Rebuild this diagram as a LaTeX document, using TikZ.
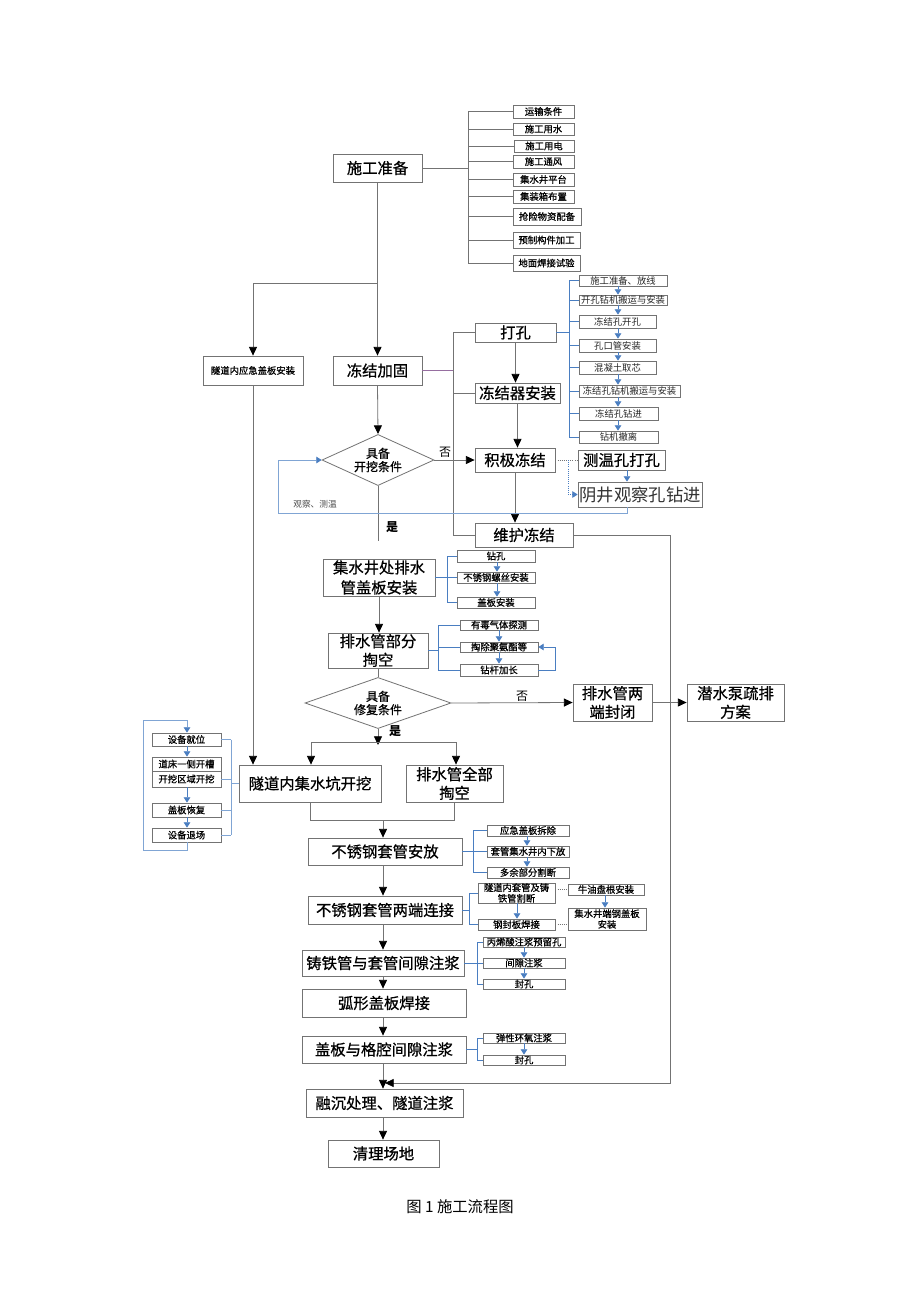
\documentclass[tikz,border=0pt]{standalone}
\usepackage{fontspec}
\setmainfont{Noto Sans CJK SC}
\newfontfamily\medcjk{Noto Sans CJK SC}[FakeBold=0.7]
\usetikzlibrary{arrows.meta,shapes.geometric}
\definecolor{lblue}{RGB}{74,126,193}
\definecolor{lpurp}{RGB}{150,110,160}
\newcommand\mybox[7][]{%
  \pgfmathsetmacro\bw{(#5-#3)*0.75}%
  \pgfmathsetmacro\bh{(#6-#4)*0.75}%
  \node[box,#1,minimum width=\bw pt,minimum height=\bh pt] (#2) at ({(#3+#5)/2},{(#4+#6)/2}) {#7};}
\begin{document}
\begin{tikzpicture}[x=0.75pt,y=-0.75pt,
 box/.style={draw=black!55,line width=0.6pt,inner sep=0pt,fill=white,align=center},
 mfont/.style={font=\medcjk\fontsize{11.5}{14}\selectfont},
 sfont/.style={font=\medcjk\fontsize{7}{8}\selectfont},
 tfont/.style={font=\fontsize{7}{8}\selectfont,text=black!85},
 gl/.style={draw=black!55,line width=0.6pt},
 bl/.style={draw=lblue,line width=0.6pt},
 arr/.style={gl,-{Triangle[length=6.5pt,width=6pt,color=black]}},
 barr/.style={bl,-{Triangle[length=4pt,width=5pt,color=lblue]}},
 dmd/.style={draw=black!55,line width=0.6pt,shape=diamond,inner sep=-4pt,align=center,font=\medcjk\fontsize{9}{10}\selectfont},
 lbl/.style={font=\fontsize{9}{10}\selectfont}
]
\fill[white] (0,0) rectangle (920,1302);
\useasboundingbox (0,0) rectangle (920,1302);

% ---------- 施工准备 ----------
\mybox[mfont]{prep}{333}{154}{422}{182}{施工准备}
\mybox[sfont]{a1}{513}{105}{574}{118}{运输条件}
\mybox[sfont]{a2}{513}{123}{574}{135}{施工用水}
\mybox[sfont]{a3}{514}{140}{574}{152}{施工用电}
\mybox[sfont]{a4}{513}{155}{574}{168}{施工通风}
\mybox[sfont]{a5}{513}{173}{574}{186}{集水井平台}
\mybox[sfont]{a6}{513}{190}{574}{203}{集装箱布置}
\mybox[sfont]{a7}{513}{208}{581}{225}{抢险物资配备}
\mybox[sfont]{a8}{513}{232}{580}{248}{预制构件加工}
\mybox[sfont]{a9}{513}{255}{580}{271}{地面焊接试验}
\coordinate (busA) at (468,0);
\foreach \n in {a1,a2,a3,a4,a5,a6,a7,a8,a9} \draw[gl] (\n.west) -- (\n.west -| busA);
\draw[gl] (a1.west -| busA) -- (a9.west -| busA);
\draw[gl] (prep.east) -- (prep.east -| busA);

% ---------- 冻结 ----------
\mybox[sfont]{emerg}{203}{356}{303}{385}{隧道内应急盖板安装}
\mybox[mfont]{freeze}{333}{356}{422}{385}{冻结加固}
\coordinate (j1) at (377.5,283);
\draw[arr] (prep.south) -- (freeze.north);
\draw[arr] (j1) -| (emerg.north);

\mybox[mfont]{drill}{475}{323}{556}{342}{打孔}
\mybox[mfont]{inst}{475}{383}{560}{403}{冻结器安装}
\mybox[mfont]{active}{475}{448}{555}{472}{积极冻结}
\mybox[mfont]{tempd}{578}{450}{665}{470}{测温孔打孔}
\mybox[font=\fontsize{13}{15}\selectfont,text=black!80]{obs}{578}{482}{702}{507}{阴井观察孔钻进}
\mybox[mfont]{maint}{475}{523}{573}{547}{维护冻结}

\coordinate (busF) at (453,0);
\draw[draw=lpurp,line width=0.6pt] (freeze.east) -- (freeze.east -| busF);
\draw[gl] (drill.west) -- (drill.west -| busF) -- (maint.west -| busF) -- (maint.west);
\draw[gl] (inst.west) -- (inst.west -| busF);

\mybox[tfont]{b1}{579}{275}{667}{286}{施工准备、放线}
\mybox[tfont]{b2}{579}{295}{667}{305}{开孔钻机搬运与安装}
\mybox[tfont]{b3}{579}{315}{656}{328}{冻结孔开孔}
\mybox[tfont]{b4}{579}{339}{656}{352}{孔口管安装}
\mybox[tfont]{b5}{579}{361}{656}{374}{混凝土取芯}
\mybox[tfont]{b6}{579}{385}{680}{397}{冻结孔钻机搬运与安装}
\mybox[tfont]{b7}{579}{407}{658}{420}{冻结孔钻进}
\mybox[tfont]{b8}{579}{431}{658}{443}{钻机撤离}
\coordinate (busB) at (569,0);
\coordinate (arB) at (618,0);
\draw[bl] (drill.east) -- (drill.east -| busB);
\foreach \n in {b1,b2,b3,b4,b5,b6,b7,b8} \draw[bl] (\n.west) -- (\n.west -| busB);
\draw[bl] (b1.west -| busB) -- (b8.west -| busB);
\foreach \p/\q in {b1/b2,b2/b3,b3/b4,b4/b5,b5/b6,b6/b7,b7/b8} \draw[barr] (\p.south -| arB) -- (\q.north -| arB);

\draw[arr] (drill.south) -- (drill.south |- inst.north);
\draw[arr] (inst.south) -- (inst.south |- active.north);
\draw[arr] (active.south) -- (active.south |- maint.north);

\draw[gl,densely dotted] (active.east) -- (tempd.west);
\coordinate (k1) at (568,460);
\draw[bl,densely dotted,-{Triangle[length=4pt,width=5pt,color=lblue]}] (k1) |- (obs.west);
\coordinate (cx) at (627,0);
\draw[barr] (tempd.south -| cx) -- (obs.north -| cx);

% diamond 1
\node[dmd,minimum width=84pt,minimum height=34.5pt] (d1) at (378,460) {具备\\开挖条件};
\draw[arr] (freeze.south) -- (d1.north);
\draw[arr] (d1.east) -- (active.west);
\node[lbl] (no1) at (445,452) {否};
\coordinate (e1) at (378,541);
\draw[gl] (d1.south) -- (e1);
\node[lbl,font=\fontsize{9}{10}\selectfont\bfseries] (yes1) at (392,527) {是};
\draw[draw=lblue!70,line width=0.6pt,-{Triangle[length=4pt,width=5pt,color=lblue]}] (obs.south -| cx) -- (627,513) -- (278,513) -- (278,460) -- (d1.west);
\node[font=\fontsize{6.5}{7}\selectfont,text=black!70] (lab1) at (315,504) {观察、测温};

\coordinate (r1) at (670,535);
\coordinate (r2) at (670,1083);
\coordinate (m6) at (385,1083);
\draw[gl,-{Triangle[length=6.5pt,width=6pt,color=black]}] (maint.east) -- (r1) -- (r2) -- (m6);

% ---------- 集水井处 ----------
\mybox[mfont,font=\medcjk\fontsize{11.5}{15}\selectfont]{w1}{323}{559}{435}{596}{集水井处排水\\管盖板安装}
\mybox[sfont]{c1}{457}{550}{535}{562}{钻孔}
\mybox[sfont]{c2}{457}{572}{535}{583}{不锈钢螺丝安装}
\mybox[sfont]{c3}{457}{597}{535}{608}{盖板安装}
\coordinate (busC) at (447,0);
\coordinate (arC) at (497,0);
\draw[bl] (w1.east) -- (w1.east -| busC);
\foreach \n in {c1,c2,c3} \draw[bl] (\n.west) -- (\n.west -| busC);
\draw[bl] (c1.west -| busC) -- (c3.west -| busC);
\draw[barr] (c1.south -| arC) -- (c2.north -| arC);
\draw[barr] (c2.south -| arC) -- (c3.north -| arC);

\mybox[mfont]{w2}{328}{633}{428}{668}{排水管部分\\掏空}
\draw[arr] (w1.south) -- (w1.south |- w2.north);
\mybox[sfont]{f1}{460}{620}{538}{630}{有毒气体探测}
\mybox[sfont]{f2}{460}{642}{538}{652}{掏除聚氨酯等}
\mybox[sfont]{f3}{460}{664}{538}{676}{钻杆加长}
\coordinate (busE) at (438,0);
\coordinate (arE) at (499,0);
\draw[bl] (w2.east) -- (w2.east -| busE);
\foreach \n in {f1,f2,f3} \draw[bl] (\n.west) -- (\n.west -| busE);
\draw[bl] (f1.west -| busE) -- (f3.west -| busE);
\draw[barr] (f1.south -| arE) -- (f2.north -| arE);
\draw[barr] (f2.south -| arE) -- (f3.north -| arE);
\draw[barr] (f3.east) -- (555,670) -- (555,647) -- (f2.east);

% diamond 2
\node[dmd,minimum width=109.5pt,minimum height=25.5pt] (d2) at (378,703) {具备\\修复条件};
\draw[gl] (w2.south) -- (d2.north);
\mybox[mfont]{dc}{573}{684}{652}{721}{排水管两\\端封闭}
\mybox[mfont]{pump}{687}{684}{784}{721}{潜水泵疏排\\方案}
\draw[arr] (d2.east) -- (dc.west);
\node[lbl] (no2) at (522,696) {否};
\draw[arr] (dc.east) -- (pump.west);
\coordinate (j2) at (378,745);
\draw[arr] (d2.south) -- (j2);
\node[lbl,font=\fontsize{9}{10}\selectfont\bfseries] (yes2) at (395,731) {是};

\mybox[mfont]{tp}{239}{765}{381}{802}{隧道内集水坑开挖}
\mybox[mfont]{ae}{406}{765}{503}{802}{排水管全部\\掏空}
\coordinate (hl) at (311,742);
\coordinate (hr) at (456,742);
\draw[gl] (hl) -- (hr);
\draw[arr] (hl) -- (hl |- tp.north);
\draw[arr] (hr) -- (hr |- ae.north);
\draw[arr] (emerg.south) -- (emerg.south |- tp.north);

% left group
\mybox[sfont]{g1}{152}{733}{221}{746}{设备就位}
\mybox[sfont]{g2}{152}{757}{221}{771}{道床一侧开槽}
\mybox[sfont]{g3}{152}{771}{221}{787}{开挖区域开挖}
\mybox[sfont]{g4}{152}{803}{221}{817}{盖板恢复}
\mybox[sfont]{g5}{152}{828}{221}{842}{设备退场}
\coordinate (gx) at (187,0);
\coordinate (busG) at (231,0);
\draw[barr] (g1.south -| gx) -- (g2.north -| gx);
\draw[barr] (g3.south -| gx) -- (g4.north -| gx);
\draw[barr] (g4.south -| gx) -- (g5.north -| gx);
\draw[draw=lblue!70,line width=0.6pt,-{Triangle[length=4pt,width=5pt,color=lblue]}] (g5.south -| gx) -- (187,850) -- (143,850) -- (143,720) -- (187,720) -- (g1.north -| gx);
\foreach \n in {g1,g3,g4,g5} \draw[draw=lblue!70,line width=0.6pt] (\n.east) -- (\n.east -| busG);
\draw[draw=lblue!70,line width=0.6pt] (g1.east -| busG) -- (g5.east -| busG);
\draw[draw=lblue!70,line width=0.6pt] (tp.west -| busG) -- (tp.west);

% ---------- 不锈钢套管 ----------
\mybox[mfont]{s1}{308}{838}{462}{865}{不锈钢套管安放}
\coordinate (mj) at (383,820);
\draw[gl] (tp.south) |- (mj);
\draw[gl] (ae.south) |- (mj);
\draw[arr] (mj) -- (mj |- s1.north);
\mybox[sfont]{h1}{487}{825}{569}{836}{应急盖板拆除}
\mybox[sfont]{h2}{487}{846}{569}{857}{套管集水井内下放}
\mybox[sfont]{h3}{487}{867}{569}{878}{多余部分割断}
\coordinate (busH) at (473,0);
\coordinate (arH) at (527,0);
\draw[bl] (s1.east) -- (s1.east -| busH);
\foreach \n in {h1,h2,h3} \draw[bl] (\n.west) -- (\n.west -| busH);
\draw[bl] (h1.west -| busH) -- (h3.west -| busH);
\draw[barr] (h1.south -| arH) -- (h2.north -| arH);
\draw[barr] (h2.south -| arH) -- (h3.north -| arH);

\mybox[mfont]{s2}{308}{896}{462}{924}{不锈钢套管两端连接}
\draw[arr] (s1.south -| mj) -- (s2.north -| mj);
\mybox[sfont]{i1}{478}{883}{555}{903}{隧道内套管及铸\\铁管割断}
\mybox[sfont]{i2}{478}{919}{555}{930}{钢封板焊接}
\mybox[sfont]{i3}{568}{884}{644}{895}{牛油盘根安装}
\mybox[sfont]{i4}{568}{908}{646}{930}{集水井端钢盖板\\安装}
\coordinate (busI) at (469,0);
\coordinate (arI) at (517,0);
\coordinate (arI2) at (605,0);
\draw[bl] (s2.east) -- (s2.east -| busI);
\foreach \n in {i1,i2} \draw[bl] (\n.west) -- (\n.west -| busI);
\draw[bl] (i1.west -| busI) -- (i2.west -| busI);
\draw[barr] (i1.south -| arI) -- (i2.north -| arI);
\draw[gl,densely dotted] (i3.west -| i1.east) -- (i3.west);
\draw[gl,densely dotted] (i2.east) -- (i2.east -| i4.west);
\draw[barr] (i3.south -| arI2) -- (i4.north -| arI2);

\mybox[mfont]{s3}{302}{950}{464}{976}{铸铁管与套管间隙注浆}
\draw[arr] (s2.south -| mj) -- (s3.north -| mj);
\mybox[sfont]{p1}{483}{937}{565}{947}{丙烯酸注浆预留孔}
\mybox[sfont]{p2}{483}{958}{565}{968}{间隙注浆}
\mybox[sfont]{p3}{483}{979}{565}{989}{封孔}
\coordinate (busJ) at (477,0);
\coordinate (arJ) at (524,0);
\draw[bl] (s3.east) -- (s3.east -| busJ);
\foreach \n in {p1,p2,p3} \draw[bl] (\n.west) -- (\n.west -| busJ);
\draw[bl] (p1.west -| busJ) -- (p3.west -| busJ);
\draw[barr] (p1.south -| arJ) -- (p2.north -| arJ);
\draw[barr] (p2.south -| arJ) -- (p3.north -| arJ);

\mybox[mfont]{s4}{302}{989}{466}{1017}{弧形盖板焊接}
\draw[arr] (s3.south -| mj) -- (s4.north -| mj);
\mybox[mfont]{s5}{302}{1036}{466}{1063}{盖板与格腔间隙注浆}
\draw[arr] (s4.south -| mj) -- (s5.north -| mj);
\mybox[sfont]{q1}{483}{1033}{565}{1043}{弹性环氧注浆}
\mybox[sfont]{q2}{483}{1055}{565}{1065}{封孔}
\draw[bl] (s5.east) -- (s5.east -| busJ);
\foreach \n in {q1,q2} \draw[bl] (\n.west) -- (\n.west -| busJ);
\draw[bl] (q1.west -| busJ) -- (q2.west -| busJ);
\draw[barr] (q1.south -| arJ) -- (q2.north -| arJ);

\mybox[mfont]{s6}{306}{1089}{463}{1117}{融沉处理、隧道注浆}
\draw[arr] (s5.south -| mj) -- (s6.north -| mj);
\mybox[mfont]{s7}{328}{1140}{439}{1167}{清理场地}
\draw[arr] (s6.south -| mj) -- (s7.north -| mj);

\node[font=\fontsize{11.5}{13}\selectfont] (cap) at (460,1207) {图 1 施工流程图};
\end{tikzpicture}
\end{document}
